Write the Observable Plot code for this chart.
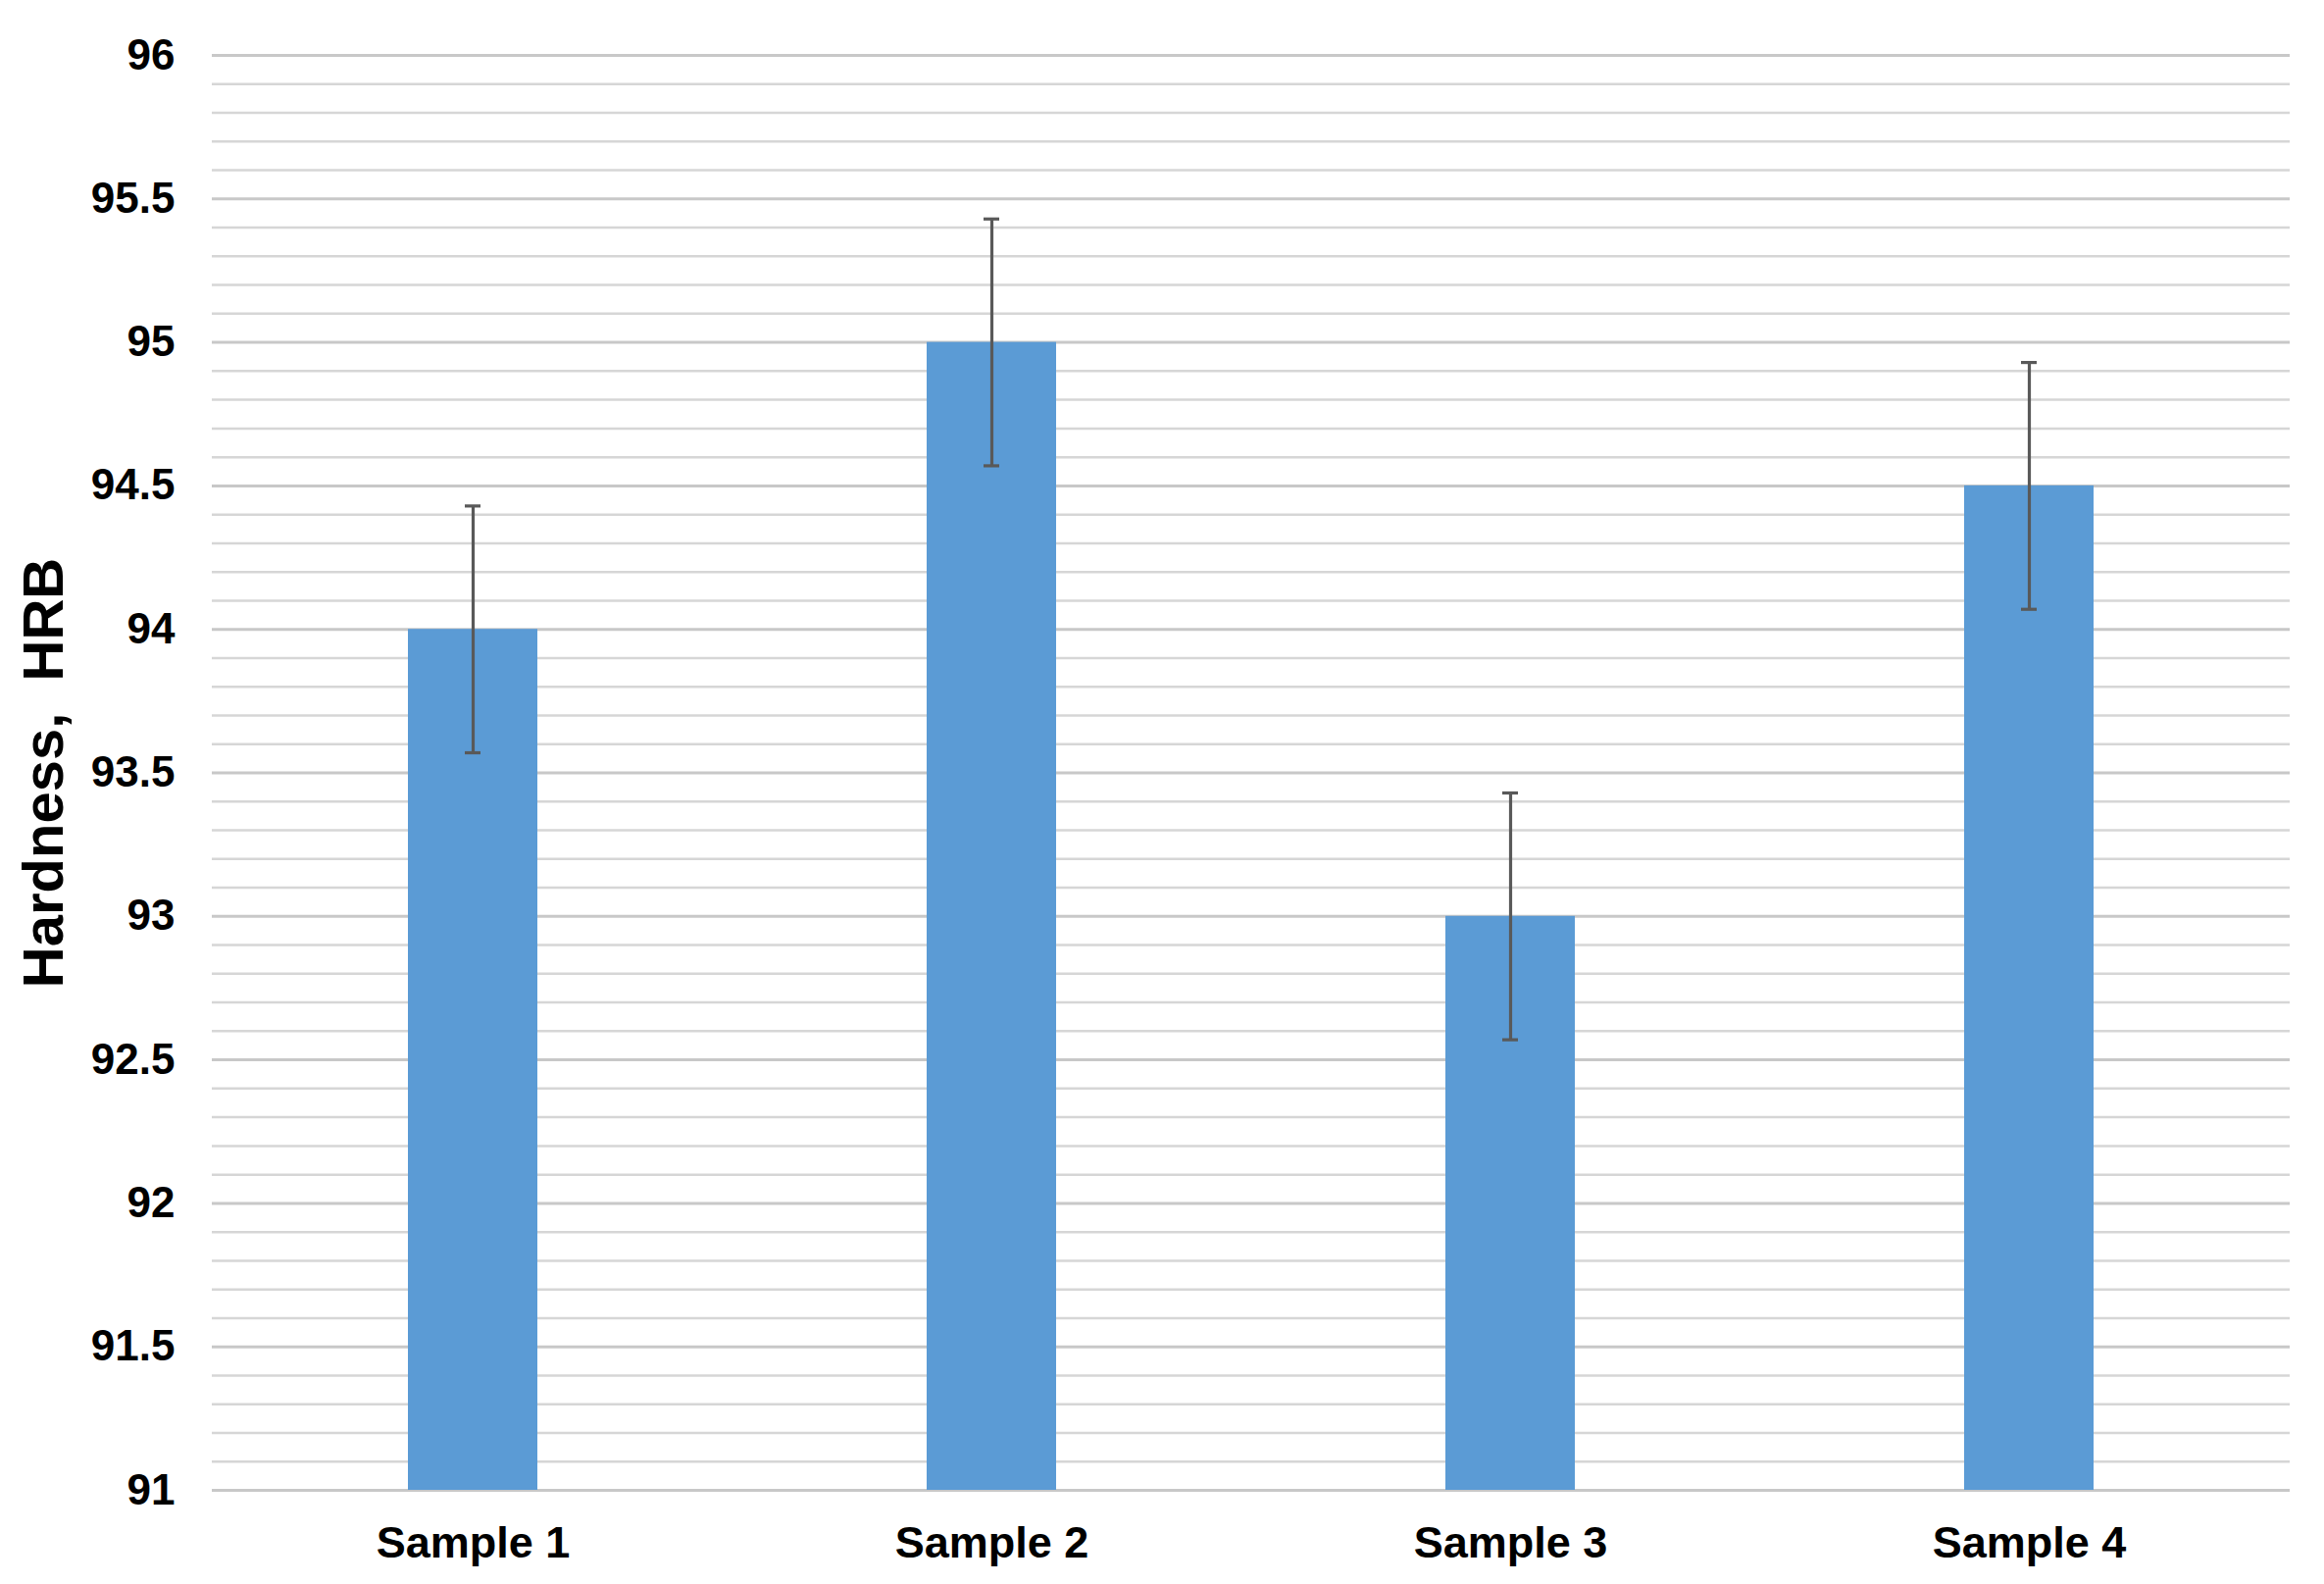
<!DOCTYPE html>
<html>
<head>
<meta charset="utf-8">
<script src="https://cdn.jsdelivr.net/npm/d3@7"></script>
<script src="https://cdn.jsdelivr.net/npm/@observablehq/plot@0.6"></script>
<style>
  html, body { margin: 0; padding: 0; background: #ffffff; }
  #chart svg { display: block; }
</style>
</head>
<body>
<div id="chart"></div>
<script>
const samples = ["Sample 1", "Sample 2", "Sample 3", "Sample 4"];
const hardness = [94, 95, 93, 94.5];
const errors = [0.43, 0.43, 0.43, 0.43];
const yTicks = [91, 91.5, 92, 92.5, 93, 93.5, 94, 94.5, 95, 95.5, 96];
const yMin = 91, yMax = 96;
const yTitle = "Hardness,  HRB";

const rows = samples.map((s, i) => ({sample: s, value: hardness[i], err: errors[i]}));
const minorTicks = d3.range(yMin * 10, yMax * 10 + 1).map(d => d / 10).filter(d => !yTicks.includes(d));

const W = 2370, H = 1615;
const font = "'Liberation Sans', Arial, sans-serif";

const chart = Plot.plot({
  width: W,
  height: H,
  marginLeft: 216,
  marginRight: 35,
  marginTop: 56,
  marginBottom: 96,
  style: {fontFamily: font, background: "#ffffff", color: "#000000"},
  x: {domain: samples, paddingInner: 0.75, paddingOuter: 0.375, label: null},
  y: {domain: [yMin, yMax], label: null},
  marks: [
    Plot.ruleY(minorTicks, {stroke: "#d6d6d6", strokeWidth: 2.5}),
    Plot.ruleY(yTicks, {stroke: "#c8c8c8", strokeWidth: 3}),
    Plot.barY(rows, {x: "sample", y1: yMin, y2: "value", fill: "#5B9BD5"}),
    Plot.ruleX(rows, {x: "sample", y1: d => d.value - d.err, y2: d => d.value + d.err, stroke: "#595959", strokeWidth: 3.2}),
    Plot.tickY(rows, {x: "sample", y: d => d.value + d.err, stroke: "#595959", strokeWidth: 3.2, insetLeft: 58, insetRight: 58}),
    Plot.tickY(rows, {x: "sample", y: d => d.value - d.err, stroke: "#595959", strokeWidth: 3.2, insetLeft: 58, insetRight: 58}),
    Plot.axisY({ticks: yTicks, tickFormat: d => String(d), tickSize: 0, tickPadding: 38, fontSize: 44, fontWeight: "bold", label: null}),
    Plot.axisX({tickSize: 0, tickPadding: 37, fontSize: 45, fontWeight: "bold", label: null}),
    Plot.text([yTitle], {frameAnchor: "left", rotate: -90, dx: -171, textAnchor: "middle", lineAnchor: "middle", fontSize: 58, fontWeight: "bold", fill: "#000000"})
  ]
});

document.getElementById("chart").appendChild(chart);
</script>
</body>
</html>
